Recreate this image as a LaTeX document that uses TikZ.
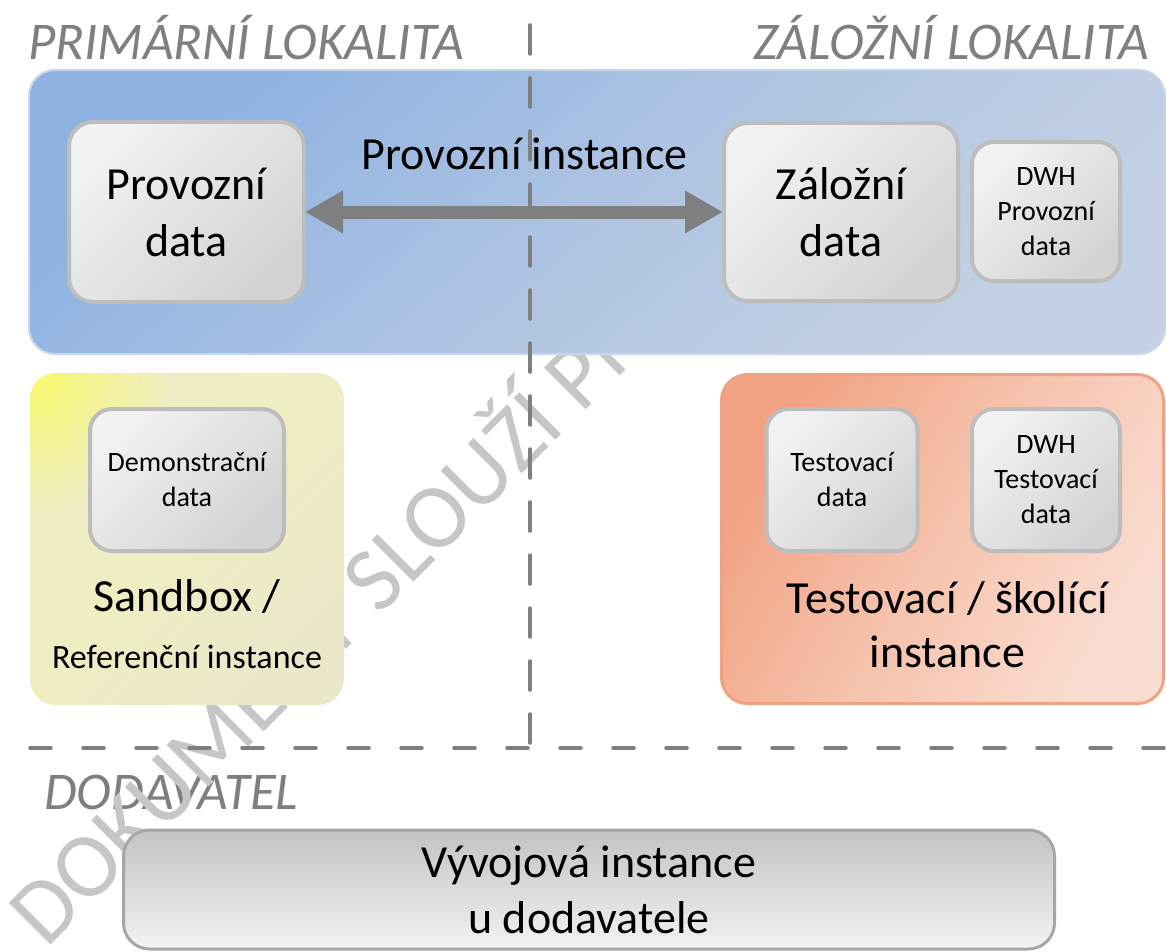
\documentclass[tikz,border=0pt]{standalone}
\usepackage{fontspec}
\setmainfont{Carlito}
\usetikzlibrary{arrows.meta}
\definecolor{hdr}{HTML}{7F7F7F}
\definecolor{wmgray}{HTML}{C6C6C6}
\definecolor{blueA}{HTML}{8DB2E2}
\definecolor{blueM}{HTML}{AFC4E2}
\definecolor{blueB}{HTML}{C4D1E4}
\definecolor{blueE}{HTML}{C9D6EA}
\definecolor{yelA}{HTML}{F8F86C}
\definecolor{yelM}{HTML}{EFEDC2}
\definecolor{yelL}{HTML}{EEECC4}
\definecolor{yelB}{HTML}{EBE8CA}
\definecolor{orA}{HTML}{F1A283}
\definecolor{orM}{HTML}{F6C3AD}
\definecolor{orB}{HTML}{FADDD2}
\definecolor{orE}{HTML}{EFA282}
\definecolor{gA}{HTML}{F2F2F2}
\definecolor{gB}{HTML}{D3D3D3}
\definecolor{gE}{HTML}{BDBDBD}
\definecolor{vA}{HTML}{C3C3C3}
\definecolor{vB}{HTML}{F3F3F3}
\definecolor{vE}{HTML}{A6A6A6}
\tikzset{
  heading/.style={text=hdr, font=\fontsize{53}{60}\selectfont\itshape, inner sep=0pt},
  bigtxt/.style={font=\fontsize{46}{56}\selectfont, align=center, inner sep=0pt},
  midtxt/.style={font=\fontsize{34}{40}\selectfont, align=center, inner sep=0pt},
  area/.style={rounded corners=26pt, inner sep=0pt, outer sep=0pt},
  bluearea/.style={area, draw=blueE, line width=2pt, top color=blueA, bottom color=blueB, middle color=blueM, shading angle=40},
  yelarea/.style={area, top color=yelL, bottom color=yelB, middle color=yelM, shading angle=45},
  orarea/.style={area, draw=orE, line width=3pt, top color=orA, bottom color=orB, middle color=orM, shading angle=60},
  databox/.style={draw=gE, line width=4pt, rounded corners=24pt, top color=gA, bottom color=gB, shading angle=45, align=center, inner sep=0pt, outer sep=0pt},
  bigbox/.style={databox, font=\fontsize{46}{57}\selectfont},
  smallbox/.style={databox, rounded corners=22pt, font=\fontsize{28}{35}\selectfont},
  devbox/.style={draw=vE, line width=3pt, rounded corners=26pt, top color=vA, bottom color=vB, align=center, inner sep=0pt, outer sep=0pt, font=\fontsize{46}{56}\selectfont},
  divider/.style={draw=hdr, line width=3.5pt, line cap=round, dash pattern=on 29pt off 24pt},
  hdivider/.style={draw=hdr, line width=3.5pt, line cap=round, dash pattern=on 21pt off 32pt},
  twoway/.style={draw=hdr, line width=13pt, {Triangle[length=38pt,width=40pt]}-{Triangle[length=38pt,width=40pt]}, shorten <=1pt, shorten >=1pt},
  watermark/.style={text=wmgray, font=\fontsize{92}{96}\selectfont, inner sep=0pt}
}
\begin{document}
\begin{tikzpicture}[x=1pt,y=-1pt]
\useasboundingbox[fill=white] (0,0) rectangle (1166,952);
\begin{scope}
\clip (0,0) rectangle (1166,952);
% headings
\node[heading, anchor=base west] (hprim) at (28,60) {PRIMÁRNÍ LOKALITA};
\node[heading, anchor=base east] (hzal) at (1149,60) {ZÁLOŽNÍ LOKALITA};
\node[heading, anchor=base west] (hdod) at (44,809) {DODAVATEL};
% watermark
\node[watermark, rotate=45, anchor=base west] (wm) at (46,950) {DOKUMENT SLOUŽÍ PRO};
% areas
\node[bluearea, minimum width=1136pt, minimum height=284pt] (blue) at (597,212) {};
\node[yelarea, minimum width=314pt, minimum height=332pt] (yel) at (187,539) {};
\begin{scope}
\clip[rounded corners=26pt] (yel.north west) rectangle (yel.south east);
\shade[inner color=yelA, outer color=yelM] (yel.north west) circle[radius=140pt];
\end{scope}
\node[orarea, minimum width=442pt, minimum height=329pt] (ora) at (942.5,539) {};
% data boxes
\node[bigbox, minimum width=235pt, minimum height=180pt] (pd) at (186.5,212) {Provozní\\data};
\node[bigbox, minimum width=234pt, minimum height=178pt] (zd) at (841,212) {Záložní\\data};
\node[smallbox, minimum width=148pt, minimum height=139pt] (dwhp) at (1046,211.5) {DWH\\Provozní\\data};
\node[smallbox, minimum width=194pt, minimum height=142pt] (demo) at (187,480) {Demonstrační\\data};
\node[smallbox, minimum width=151pt, minimum height=142pt] (test) at (842,480) {Testovací\\data};
\node[smallbox, minimum width=148pt, minimum height=142pt] (dwht) at (1046,480) {DWH\\Testovací\\data};
% labels
\node[bigtxt, anchor=base] (lprov) at (524.5,170) {Provozní instance};
\node[bigtxt, anchor=base] (lsand) at (187,611) {Sandbox /};
\node[midtxt, anchor=base] (lref) at (187,668) {Referenční instance};
\node[bigtxt, anchor=base] (ltest) at (947.5,613) {Testovací / školící};
\node[bigtxt, anchor=base] (linst) at (947.5,667) {instance};
% development box
\node[devbox, minimum width=931pt, minimum height=119pt] (dev) at (589,889.5) {Vývojová instance\\u dodavatele};
% arrow
\draw[twoway] (pd.east) -- (zd.west);
% dividers
\coordinate (vtop) at (530,25);
\coordinate (vbot) at (530,748);
\coordinate (hleft) at (30,748);
\coordinate (hright) at (1180,748);
\draw[divider] (vtop) -- (vbot);
\draw[hdivider] (hleft) -- (hright);
\end{scope}
\end{tikzpicture}
\end{document}
